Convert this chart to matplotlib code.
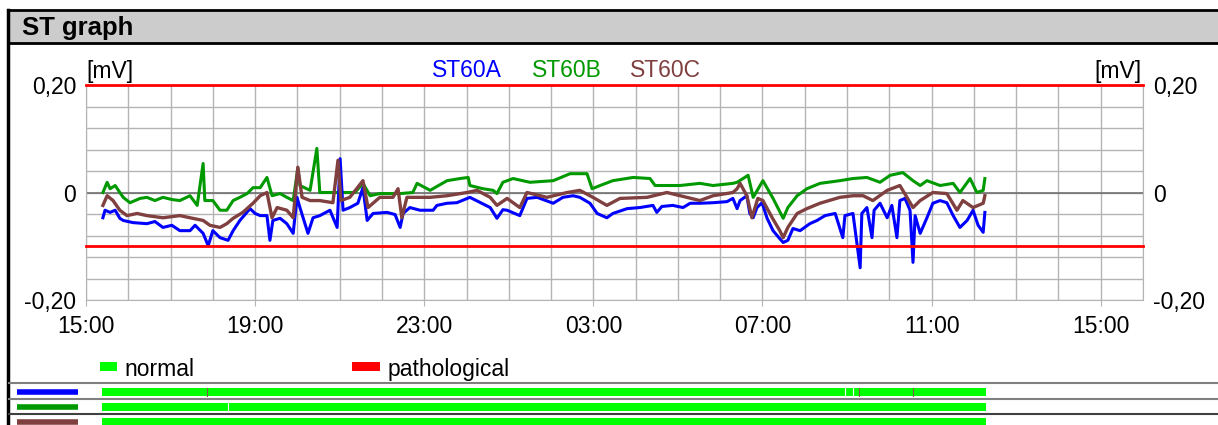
import matplotlib
matplotlib.use("Agg")
import matplotlib.pyplot as plt
from matplotlib.patches import Rectangle

plt.rcParams['font.family'] = ['Liberation Sans', 'DejaVu Sans']

# hours since 15:00 and ST level in mV
hours_a = [0.40, 0.45, 0.57, 0.69, 0.80, 0.88, 1.11, 1.44, 1.63, 1.82, 2.03, 2.22, 2.46, 2.58,
           2.77, 2.89, 3.00, 3.17, 3.36, 3.48, 3.64, 3.88, 4.00, 4.12, 4.28, 4.35, 4.42, 4.59,
           4.75, 4.90, 4.99, 5.06, 5.25, 5.37, 5.53, 5.77, 5.94, 6.01, 6.08, 6.24, 6.43, 6.55,
           6.65, 6.79, 7.12, 7.31, 7.43, 7.50, 7.66, 7.90, 8.21, 8.30, 8.54, 8.77, 9.08, 9.56,
           9.72, 9.86, 9.96, 10.26, 10.43, 10.67, 11.05, 11.28, 11.52, 11.68, 11.92, 12.09,
           12.32, 12.46, 12.80, 13.10, 13.41, 13.50, 13.62, 13.88, 14.12, 14.29, 14.52, 14.83,
           15.16, 15.30, 15.40, 15.47, 15.63, 15.70, 15.78, 15.87, 15.99, 16.11, 16.25, 16.41,
           16.49, 16.60, 16.72, 16.89, 17.12, 17.29, 17.48, 17.72, 17.90, 17.95, 18.14, 18.31,
           18.35, 18.47, 18.59, 18.64, 18.78, 18.95, 19.06, 19.18, 19.25, 19.37, 19.49, 19.56,
           19.61, 19.73, 19.89, 20.03, 20.20, 20.36, 20.51, 20.67, 20.84, 20.98, 21.10, 21.22,
           21.26]
st60a = [-0.047, -0.033, -0.037, -0.033, -0.048, -0.052, -0.056, -0.058, -0.054, -0.065,
         -0.061, -0.071, -0.071, -0.061, -0.076, -0.099, -0.071, -0.084, -0.089, -0.071,
         -0.052, -0.030, -0.039, -0.043, -0.043, -0.089, -0.052, -0.048, -0.058, -0.076,
         -0.009, -0.028, -0.076, -0.047, -0.043, -0.033, -0.065, 0.063, -0.033, -0.028,
         -0.020, 0.009, -0.052, -0.039, -0.037, -0.041, -0.065, -0.039, -0.028, -0.033,
         -0.033, -0.024, -0.020, -0.019, -0.009, -0.028, -0.048, -0.032, -0.033, -0.043,
         -0.011, -0.009, -0.020, -0.009, -0.006, -0.009, -0.020, -0.039, -0.047, -0.039,
         -0.030, -0.028, -0.024, -0.037, -0.026, -0.024, -0.028, -0.020, -0.020, -0.019,
         -0.017, -0.011, -0.030, -0.015, -0.006, -0.039, -0.047, -0.028, -0.019, -0.048,
         -0.071, -0.086, -0.093, -0.089, -0.067, -0.071, -0.058, -0.052, -0.043, -0.039,
         -0.084, -0.043, -0.039, -0.140, -0.039, -0.028, -0.084, -0.033, -0.020, -0.047,
         -0.024, -0.084, -0.015, -0.011, -0.033, -0.130, -0.043, -0.076, -0.047, -0.020,
         -0.015, -0.019, -0.043, -0.065, -0.052, -0.033, -0.061, -0.074, -0.037]

hours_b = [0.40, 0.50, 0.57, 0.69, 0.80, 0.88, 1.04, 1.28, 1.44, 1.63, 1.82, 2.03, 2.22, 2.46,
           2.63, 2.77, 2.81, 3.00, 3.17, 3.33, 3.48, 3.64, 3.81, 3.95, 4.12, 4.28, 4.40, 4.59,
           4.75, 4.90, 5.01, 5.06, 5.30, 5.46, 5.53, 5.84, 6.13, 6.36, 6.55, 6.72, 6.95, 7.43,
           7.73, 7.83, 8.14, 8.25, 8.54, 8.85, 9.04, 9.08, 9.39, 9.63, 9.72, 9.86, 10.10, 10.50,
           11.05, 11.45, 11.85, 11.97, 12.16, 12.46, 12.94, 13.34, 13.46, 14.05, 14.52, 14.83,
           15.30, 15.40, 15.66, 15.78, 16.01, 16.25, 16.49, 16.60, 16.82, 17.05, 17.36, 17.83,
           18.14, 18.47, 18.78, 19.02, 19.32, 19.56, 19.73, 19.89, 20.20, 20.51, 20.67, 20.91,
           21.07, 21.22, 21.26]
st60b = [0.000, 0.019, 0.007, 0.013, 0.000, -0.009, -0.019, -0.011, -0.009, -0.015, -0.009,
         -0.013, -0.015, -0.006, -0.024, 0.054, -0.015, -0.015, -0.033, -0.033, -0.015,
         -0.009, -0.002, 0.009, 0.009, 0.028, -0.006, -0.002, -0.009, -0.015, 0.045, 0.013,
         0.004, 0.082, 0.000, 0.000, 0.000, 0.000, 0.017, -0.006, -0.002, -0.002, 0.000,
         0.017, 0.004, 0.009, 0.022, 0.026, 0.028, 0.013, 0.007, 0.004, -0.002, 0.019, 0.026,
         0.019, 0.022, 0.035, 0.035, 0.007, 0.013, 0.022, 0.028, 0.026, 0.013, 0.013, 0.017,
         0.013, 0.017, 0.019, 0.032, -0.009, 0.022, -0.011, -0.048, -0.028, -0.006, 0.007,
         0.017, 0.022, 0.026, 0.028, 0.019, 0.032, 0.037, 0.022, 0.013, 0.022, 0.013, 0.017,
         0.000, 0.026, 0.000, 0.004, 0.026]

hours_c = [0.40, 0.50, 0.64, 0.80, 0.97, 1.21, 1.44, 1.82, 2.22, 2.46, 2.77, 2.93, 3.17, 3.33,
           3.48, 3.71, 3.95, 4.12, 4.28, 4.40, 4.52, 4.75, 4.90, 5.01, 5.11, 5.30, 5.53, 5.84,
           5.96, 6.03, 6.24, 6.55, 6.67, 6.95, 7.26, 7.38, 7.47, 7.59, 8.14, 8.54, 9.01, 9.25,
           9.56, 9.72, 9.96, 10.26, 10.43, 10.90, 11.38, 11.68, 11.99, 12.32, 12.63, 13.27,
           13.74, 14.21, 14.52, 14.83, 15.30, 15.40, 15.47, 15.63, 15.75, 15.89, 16.01, 16.23,
           16.41, 16.49, 16.60, 16.82, 17.05, 17.36, 17.83, 18.14, 18.38, 18.61, 18.95, 19.25,
           19.56, 19.73, 20.03, 20.36, 20.60, 20.74, 20.98, 21.22, 21.26]
st60c = [-0.024, -0.006, -0.015, -0.033, -0.043, -0.039, -0.043, -0.047, -0.043, -0.047,
         -0.052, -0.061, -0.065, -0.058, -0.048, -0.037, -0.020, -0.006, 0.000, -0.047,
         -0.028, -0.033, -0.047, 0.047, -0.009, -0.015, -0.015, -0.019, 0.060, -0.015,
         -0.009, 0.022, -0.028, -0.009, -0.009, 0.007, -0.047, -0.009, -0.009, -0.006, 0.000,
         0.004, -0.009, -0.024, -0.011, -0.028, 0.000, -0.009, 0.000, 0.004, -0.009, -0.024,
         -0.011, -0.009, 0.000, -0.009, -0.015, -0.006, 0.000, 0.007, 0.017, -0.006, -0.047,
         -0.011, -0.015, -0.047, -0.071, -0.084, -0.065, -0.039, -0.030, -0.020, -0.009,
         -0.006, -0.006, -0.015, 0.004, 0.013, -0.028, -0.015, 0.000, -0.002, -0.033, -0.015,
         -0.028, -0.020, -0.006]

series_names = ["ST60A", "ST60B", "ST60C"]
series_colors = ["#0000ff", "#009900", "#804040"]
tick_hours = [0, 4, 8, 12, 16, 20, 24]
tick_labels = ["15:00", "19:00", "23:00", "03:00", "07:00", "11:00", "15:00"]
y_ticks = [-0.2, 0.0, 0.2]
y_labels = ["-0,20", "0", "0,20"]
limit_lines = [0.2, -0.1]

# status bars (start, end in hours) and little marks in them
status_span = (0.38, 21.29)
row1_gaps = [17.95, 18.14]
row1_marks = [2.86, 18.28, 19.56]
row2_gaps = [3.36]

W, H = 1218, 425
fig = plt.figure(figsize=(W / 100, H / 100), dpi=100)

# pixel-space overlay for frame, title, legend
lay = fig.add_axes([0, 0, 1, 1])
lay.set_xlim(0, W)
lay.set_ylim(H, 0)
lay.axis("off")
lay.add_patch(Rectangle((8, 10), W, 33, facecolor="#cccccc", edgecolor="black", lw=2))
lay.plot([8, 8], [10, H], color="black", lw=2.5)
lay.text(22, 28, "ST graph", fontsize=18.5, fontweight="bold", va="center", ha="left")
for yy, col in [(383, "#808080"), (399, "#808080"), (414, "#404040")]:
    lay.plot([9, W], [yy, yy], color=col, lw=1.5)

# main plot
L, R, T, B = 86, 1143, 85, 300
ax = fig.add_axes([L / W, 1 - B / H, (R - L) / W, (B - T) / H])
ax.set_xlim(0, 25)
ax.set_ylim(-0.2, 0.2)
ax.set_xticks(tick_hours)
ax.set_xticklabels(tick_labels)
ax.set_xticks(range(0, 26), minor=True)
ax.set_yticks(y_ticks)
ax.set_yticklabels(y_labels)
ax.set_yticks([-0.16, -0.12, -0.08, -0.04, 0.04, 0.08, 0.12, 0.16], minor=True)
ax.grid(which="both", color="#b4b4b4", lw=1)
ax.axhline(0, color="#707070", lw=1.2)
ax.tick_params(axis="x", which="major", length=4, color="#b4b4b4", pad=7, labelsize=16.5)
ax.tick_params(axis="x", which="minor", length=0)
ax.tick_params(axis="y", which="both", length=0, pad=7, labelsize=16.5,
               left=True, right=True, labelleft=True, labelright=True)
for s in ["left", "right", "bottom"]:
    ax.spines[s].set_color("#b4b4b4")
ax.spines["top"].set_visible(False)
for lvl in limit_lines:
    ax.axhline(lvl, color="#ff0000", lw=2, clip_on=False, zorder=4)

ax.plot(hours_b, st60b, color=series_colors[1], lw=2.2, zorder=3)
ax.plot(hours_a, st60a, color=series_colors[0], lw=2.2, zorder=3.5)
ax.plot(hours_c, st60c, color=series_colors[2], lw=2.4, zorder=3.6)

# units and series labels above the plot
lay.text(86, 78, "[mV]", fontsize=16.5, ha="left", va="baseline")
lay.text(1142, 78, "[mV]", fontsize=16.5, ha="right", va="baseline")
for xx, name, col in zip([432, 532, 630], series_names, series_colors):
    lay.text(xx, 77, name, fontsize=16.5, color=col, ha="left", va="baseline")

# status legend
lay.add_patch(Rectangle((100, 362), 17, 9, facecolor="#00ff00", edgecolor="none"))
lay.text(124, 376, "normal", fontsize=16.5, ha="left", va="baseline")
lay.add_patch(Rectangle((352, 362), 28, 9, facecolor="#ff0000", edgecolor="none"))
lay.text(388, 376, "pathological", fontsize=16.5, ha="left", va="baseline")

# status rows: series marker on the left, bar over time
bar_ax = fig.add_axes([L / W, 0, (R - L) / W, 1])
bar_ax.set_xlim(0, 25)
bar_ax.set_ylim(H, 0)
bar_ax.axis("off")
row_tops = [388, 403, 418]
for top, col in zip(row_tops, series_colors):
    lay.plot([17, 78], [top + 3.5, top + 3.5], color=col, lw=4, solid_capstyle="butt")
    bar_ax.broken_barh([(status_span[0], status_span[1] - status_span[0])], (top, 8),
                       facecolors="#00ff00")
for g in row1_gaps:
    bar_ax.plot([g, g], [388, 396], color="white", lw=0.8)
for m in row1_marks:
    bar_ax.plot([m, m], [388, 396], color="#806040", lw=0.8)
for g in row2_gaps:
    bar_ax.plot([g, g], [403, 411], color="white", lw=0.8)

fig.savefig("out.png", dpi=100)
